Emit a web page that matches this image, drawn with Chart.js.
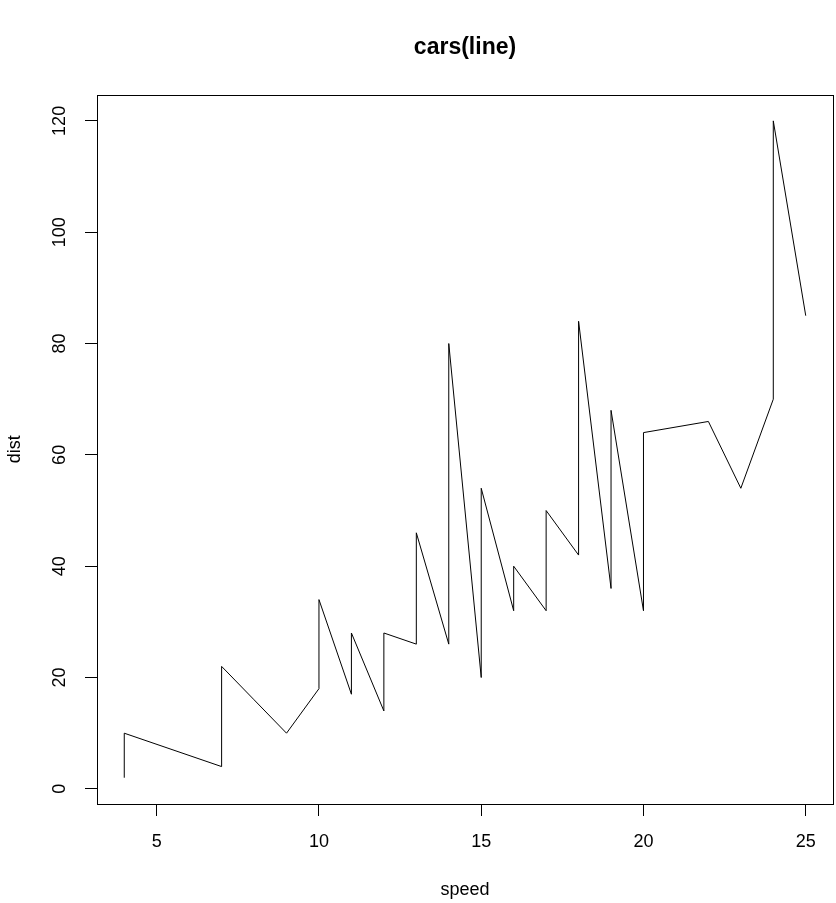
<!DOCTYPE html>
<html>
<head>
<meta charset="utf-8">
<script src="https://cdn.jsdelivr.net/npm/chart.js@4/dist/chart.umd.min.js"></script>
<style>
  html, body { margin: 0; padding: 0; background: #fff; }
  #wrap { width: 836px; height: 903px; }
</style>
</head>
<body>
<div id="wrap"><canvas id="chart" width="836" height="903"></canvas></div>
<script>
// cars data, plotted in row order (type = "l")
const speed = [4, 4, 7, 7, 8, 9, 10, 10, 10, 11, 11, 12, 12, 12, 12, 13, 13, 13, 13, 14, 14, 14, 14, 15, 15, 15, 16, 16, 17, 17, 17, 18, 18, 18, 18, 19, 19, 19, 20, 20, 20, 20, 20, 22, 23, 24, 24, 24, 24, 25];
const dist = [2, 10, 4, 22, 16, 10, 18, 26, 34, 17, 28, 14, 20, 24, 28, 26, 34, 34, 46, 26, 36, 60, 80, 20, 26, 54, 32, 40, 32, 40, 50, 42, 56, 76, 84, 36, 46, 68, 32, 48, 52, 56, 64, 66, 54, 70, 92, 93, 120, 85];
const xTicks = [5, 10, 15, 20, 25];
const yTicks = [0, 20, 40, 60, 80, 100, 120];

const font = "'Liberation Sans', Arial, sans-serif";

// R-like box around the plot region
const boxPlugin = {
  id: 'box',
  afterDraw(chart) {
    const a = chart.chartArea;
    const ctx = chart.ctx;
    ctx.save();
    ctx.strokeStyle = '#000';
    ctx.lineWidth = 1;
    ctx.strokeRect(Math.round(a.left) + 0.5, Math.round(a.top) + 0.5, Math.round(a.right - a.left), Math.round(a.bottom - a.top));
    ctx.restore();
  }
};

const points = speed.map((s, i) => ({ x: s, y: dist[i] }));

new Chart(document.getElementById('chart'), {
  type: 'scatter',
  data: {
    datasets: [{
      data: points,
      showLine: true,
      borderColor: '#000',
      borderWidth: 1,
      pointRadius: 0,
      tension: 0,
      fill: false
    }]
  },
  options: {
    responsive: false,
    animation: false,
    layout: { padding: { top: 0, right: 3, bottom: 0, left: 0 } },
    plugins: {
      legend: { display: false },
      tooltip: { enabled: false },
      title: {
        display: true,
        fullSize: false,
        text: 'cars(line)',
        color: '#000',
        font: { family: font, size: 23, weight: 'bold', lineHeight: 1.2 },
        padding: { top: 34, bottom: 33 }
      }
    },
    scales: {
      x: {
        type: 'linear',
        min: 3.16,
        max: 25.84,
        afterBuildTicks: (s) => { s.ticks = xTicks.map(v => ({ value: v })); },
        afterFit: (s) => { s.height = 99; },
        grid: { display: true, drawOnChartArea: false, drawTicks: true, tickLength: 12, color: '#000', lineWidth: 1 },
        border: { display: false },
        ticks: { color: '#000', font: { family: font, size: 18 }, padding: 15, maxRotation: 0 },
        title: { display: true, text: 'speed', color: '#000', font: { family: font, size: 18 }, padding: { top: 0, bottom: 2 } }
      },
      y: {
        type: 'linear',
        min: -2.72,
        max: 124.72,
        afterBuildTicks: (s) => { s.ticks = yTicks.map(v => ({ value: v })); },
        afterFit: (s) => { s.width = 97; },
        grid: { display: true, drawOnChartArea: false, drawTicks: true, tickLength: 12, color: '#000', lineWidth: 1 },
        border: { display: false },
        ticks: { color: '#000', font: { family: font, size: 18 }, padding: 10, minRotation: 90, maxRotation: 90, crossAlign: 'center' },
        title: { display: true, text: 'dist', color: '#000', font: { family: font, size: 18 }, padding: { top: 4, bottom: 0 } }
      }
    }
  },
  plugins: [boxPlugin]
});
</script>
</body>
</html>
